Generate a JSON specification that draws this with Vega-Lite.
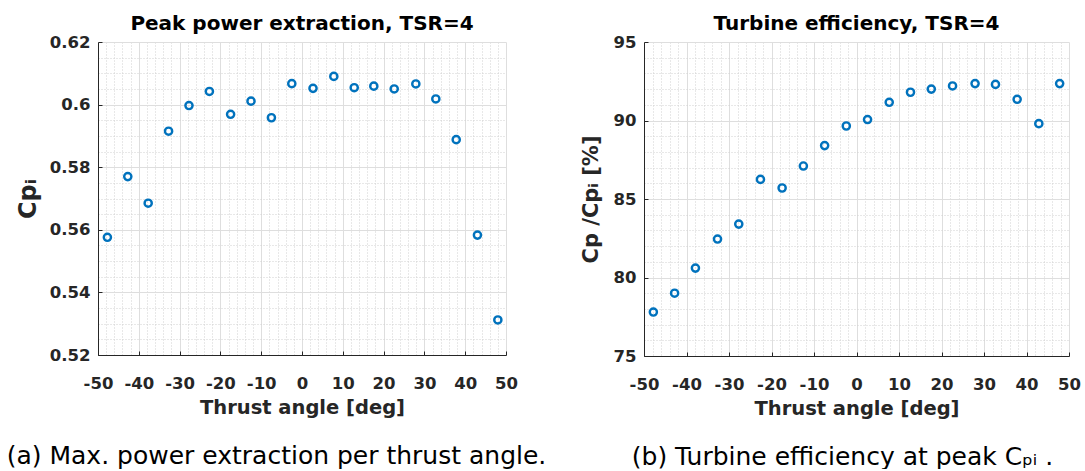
{
  "$schema": "https://vega.github.io/schema/vega-lite/v6.json",
  "background": "white",
  "padding": {"left": 6, "top": 14, "right": 5, "bottom": 0},
  "spacing": 138,
  "bounds": "flush",
  "config": {
    "view": {"stroke": null},
    "font": "DejaVu Sans"
  },
  "datasets": {
    "cpi": [
      {"angle": -47.7, "cp": 0.5576},
      {"angle": -42.7, "cp": 0.5770},
      {"angle": -37.7, "cp": 0.5685},
      {"angle": -32.7, "cp": 0.5915},
      {"angle": -27.7, "cp": 0.5997},
      {"angle": -22.7, "cp": 0.6042},
      {"angle": -17.5, "cp": 0.5969},
      {"angle": -12.5, "cp": 0.6011},
      {"angle": -7.5, "cp": 0.5958},
      {"angle": -2.5, "cp": 0.6067},
      {"angle": 2.7, "cp": 0.6052},
      {"angle": 7.8, "cp": 0.6090},
      {"angle": 12.8, "cp": 0.6054},
      {"angle": 17.6, "cp": 0.6059},
      {"angle": 22.6, "cp": 0.6050},
      {"angle": 27.9, "cp": 0.6066},
      {"angle": 32.8, "cp": 0.6018},
      {"angle": 37.8, "cp": 0.5888},
      {"angle": 43.0, "cp": 0.5583},
      {"angle": 48.0, "cp": 0.5312}
    ],
    "eff": [
      {"angle": -47.8, "eff": 77.8},
      {"angle": -42.8, "eff": 79.0},
      {"angle": -37.9, "eff": 80.6},
      {"angle": -32.7, "eff": 82.45},
      {"angle": -27.7, "eff": 83.4},
      {"angle": -22.6, "eff": 86.25},
      {"angle": -17.5, "eff": 85.7},
      {"angle": -12.5, "eff": 87.1},
      {"angle": -7.5, "eff": 88.4},
      {"angle": -2.4, "eff": 89.65},
      {"angle": 2.6, "eff": 90.06},
      {"angle": 7.7, "eff": 91.16},
      {"angle": 12.7, "eff": 91.8},
      {"angle": 17.6, "eff": 92.0},
      {"angle": 22.6, "eff": 92.2},
      {"angle": 27.9, "eff": 92.35},
      {"angle": 32.7, "eff": 92.3},
      {"angle": 37.8, "eff": 91.35},
      {"angle": 42.9, "eff": 89.8},
      {"angle": 47.8, "eff": 92.35}
    ]
  },
  "hconcat": [
    {
      "width": 408,
      "height": 313,
      "title": {"text": "Peak power extraction, TSR=4", "font": "DejaVu Sans", "fontSize": 20, "fontWeight": "bold", "color": "#000000", "offset": -16, "baseline": "alphabetic", "anchor": "middle"},
      "data": {"name": "cpi"},
      "resolve": {"axis": {"x": "independent", "y": "independent"}},
      "layer": [
        {
          "mark": {"type": "point", "opacity": 0},
          "encoding": {
            "x": {"field": "angle", "type": "quantitative", "scale": {"domain": [-50, 50], "nice": false, "zero": false},
              "axis": {"orient": "bottom", "values": [-48, -46, -44, -42, -38, -36, -34, -32, -28, -26, -24, -22, -18, -16, -14, -12, -8, -6, -4, -2, 2, 4, 6, 8, 12, 14, 16, 18, 22, 24, 26, 28, 32, 34, 36, 38, 42, 44, 46, 48],
                "grid": true, "gridColor": "#d0d0d0", "gridDash": [1, 2], "gridWidth": 1, "domain": false, "ticks": false, "tickSize": 0, "labels": false,
                "title": "(a) Max. power extraction per thrust angle.", "titleFont": "DejaVu Sans", "titleFontSize": 25, "titleFontWeight": "normal", "titleColor": "#000000", "titlePadding": 88, "titleX": 178}},
            "y": {"field": "cp", "type": "quantitative", "scale": {"domain": [0.52, 0.62], "nice": false, "zero": false},
              "axis": {"orient": "left", "values": [0.525, 0.53, 0.535, 0.545, 0.55, 0.555, 0.565, 0.57, 0.575, 0.585, 0.59, 0.595, 0.605, 0.61, 0.615],
                "grid": true, "gridColor": "#d0d0d0", "gridDash": [1, 2], "gridWidth": 1, "domain": false, "ticks": false, "tickSize": 0, "labels": false, "title": null}}
          }
        },
        {
          "mark": {"type": "point", "filled": false, "color": "#0072BD", "strokeWidth": 2.4, "size": 52, "opacity": 1},
          "encoding": {
            "x": {"field": "angle", "type": "quantitative",
              "axis": {"orient": "bottom", "values": [-50, -40, -30, -20, -10, 0, 10, 20, 30, 40, 50], "grid": true, "gridColor": "#dedede", "gridWidth": 1,
                "domain": true, "domainColor": "#262626", "domainWidth": 1, "ticks": true, "tickSize": -4, "tickColor": "#262626", "tickWidth": 1,
                "labelExpr": "datum.value + ''", "labelFont": "DejaVu Sans", "labelFontSize": 16.5, "labelFontWeight": "bold", "labelColor": "#262626", "labelPadding": 24, "labelFlush": false, "labelOverlap": false,
                "title": "Thrust angle [deg]", "titleFont": "DejaVu Sans", "titleFontSize": 19.5, "titleFontWeight": "bold", "titleColor": "#262626", "titlePadding": 7}},
            "y": {"field": "cp", "type": "quantitative",
              "axis": {"orient": "left", "values": [0.52, 0.54, 0.56, 0.58, 0.6, 0.62], "grid": true, "gridColor": "#dedede", "gridWidth": 1,
                "domain": true, "domainColor": "#262626", "domainWidth": 1, "ticks": true, "tickSize": -4, "tickColor": "#262626", "tickWidth": 1,
                "labelExpr": "datum.value + ''", "labelFont": "DejaVu Sans", "labelFontSize": 16.5, "labelFontWeight": "bold", "labelColor": "#262626", "labelPadding": 12, "labelFlush": false, "labelOverlap": false,
                "title": "Cpᵢ", "titleFont": "DejaVu Sans", "titleFontSize": 24, "titleFontWeight": "bold", "titleColor": "#262626", "titlePadding": 9}}
          }
        }
      ]
    },
    {
      "width": 425,
      "height": 314,
      "title": {"text": "Turbine efficiency, TSR=4", "font": "DejaVu Sans", "fontSize": 20, "fontWeight": "bold", "color": "#000000", "offset": -16, "baseline": "alphabetic", "anchor": "middle"},
      "data": {"name": "eff"},
      "resolve": {"axis": {"x": "independent", "y": "independent"}},
      "layer": [
        {
          "mark": {"type": "point", "opacity": 0},
          "encoding": {
            "x": {"field": "angle", "type": "quantitative", "scale": {"domain": [-50, 50], "nice": false, "zero": false},
              "axis": {"orient": "bottom", "values": [-48, -46, -44, -42, -38, -36, -34, -32, -28, -26, -24, -22, -18, -16, -14, -12, -8, -6, -4, -2, 2, 4, 6, 8, 12, 14, 16, 18, 22, 24, 26, 28, 32, 34, 36, 38, 42, 44, 46, 48],
                "grid": true, "gridColor": "#d0d0d0", "gridDash": [1, 2], "gridWidth": 1, "domain": false, "ticks": false, "tickSize": 0, "labels": false,
                "title": "(b) Turbine efficiency at peak Cₚᵢ .", "titleFont": "DejaVu Sans", "titleFontSize": 25, "titleFontWeight": "normal", "titleColor": "#000000", "titlePadding": 88, "titleX": 198}},
            "y": {"field": "eff", "type": "quantitative", "scale": {"domain": [75, 95], "nice": false, "zero": false},
              "axis": {"orient": "left", "values": [76, 77, 78, 79, 81, 82, 83, 84, 86, 87, 88, 89, 91, 92, 93, 94],
                "grid": true, "gridColor": "#d0d0d0", "gridDash": [1, 2], "gridWidth": 1, "domain": false, "ticks": false, "tickSize": 0, "labels": false, "title": null}}
          }
        },
        {
          "mark": {"type": "point", "filled": false, "color": "#0072BD", "strokeWidth": 2.4, "size": 52, "opacity": 1},
          "encoding": {
            "x": {"field": "angle", "type": "quantitative",
              "axis": {"orient": "bottom", "values": [-50, -40, -30, -20, -10, 0, 10, 20, 30, 40, 50], "grid": true, "gridColor": "#dedede", "gridWidth": 1,
                "domain": true, "domainColor": "#262626", "domainWidth": 1, "ticks": true, "tickSize": -4, "tickColor": "#262626", "tickWidth": 1,
                "labelExpr": "datum.value + ''", "labelFont": "DejaVu Sans", "labelFontSize": 16.5, "labelFontWeight": "bold", "labelColor": "#262626", "labelPadding": 24, "labelFlush": false, "labelOverlap": false,
                "title": "Thrust angle [deg]", "titleFont": "DejaVu Sans", "titleFontSize": 19.5, "titleFontWeight": "bold", "titleColor": "#262626", "titlePadding": 7}},
            "y": {"field": "eff", "type": "quantitative",
              "axis": {"orient": "left", "values": [75, 80, 85, 90, 95], "grid": true, "gridColor": "#dedede", "gridWidth": 1,
                "domain": true, "domainColor": "#262626", "domainWidth": 1, "ticks": true, "tickSize": -4, "tickColor": "#262626", "tickWidth": 1,
                "labelExpr": "datum.value + ''", "labelFont": "DejaVu Sans", "labelFontSize": 16.5, "labelFontWeight": "bold", "labelColor": "#262626", "labelPadding": 12, "labelFlush": false, "labelOverlap": false,
                "title": "Cp /Cpᵢ [%]", "titleFont": "DejaVu Sans", "titleFontSize": 21, "titleFontWeight": "bold", "titleColor": "#262626", "titlePadding": 12}}
          }
        }
      ]
    }
  ]
}
